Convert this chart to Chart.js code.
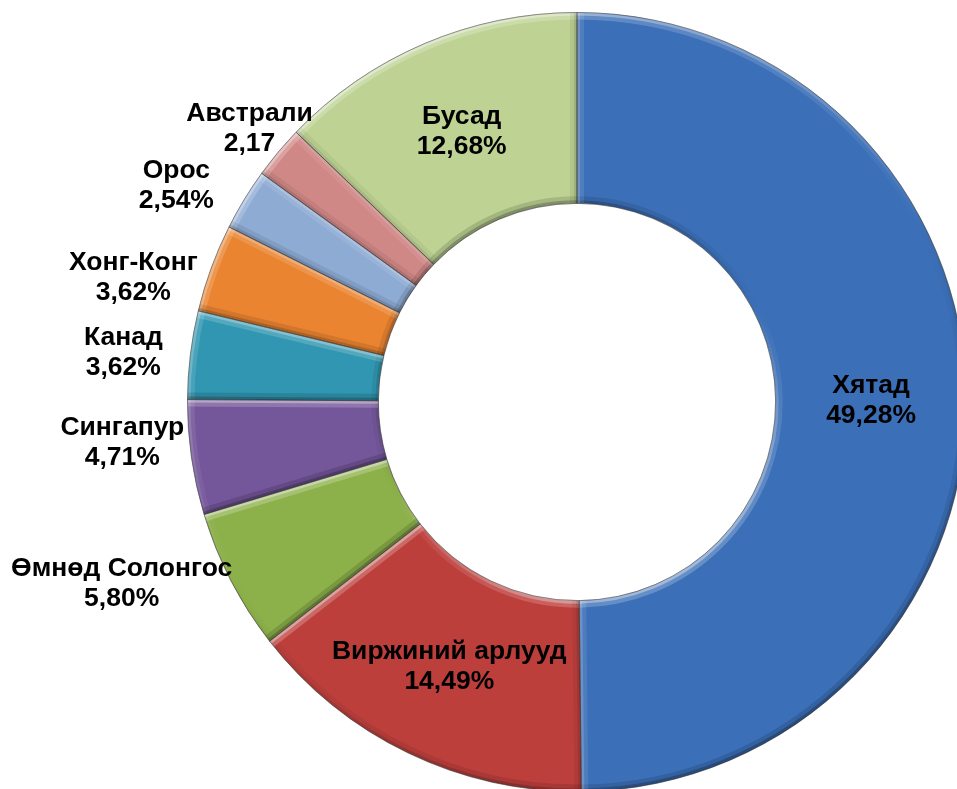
<!DOCTYPE html>
<html><head><meta charset="utf-8">
<script src="https://cdn.jsdelivr.net/npm/chart.js@4/dist/chart.umd.min.js"></script>
<style>
html,body{margin:0;padding:0;overflow:hidden;background:#fff;width:957px;height:789px}
#wrap{position:absolute;left:0;top:0;width:980px;height:800px}
</style>
</head><body>
<div id="wrap"><canvas id="c" width="980" height="800"></canvas></div>
<script>
// ---- data ----
const categories = ['Хятад', 'Виржиний арлууд', 'Өмнөд Солонгос', 'Сингапур', 'Канад', 'Хонг-Конг', 'Орос', 'Австрали', 'Бусад'];
const shares = [49.28, 14.49, 5.80, 4.71, 3.62, 3.62, 2.54, 2.17, 12.68];
const valueLabels = ['49,28%', '14,49%', '5,80%', '4,71%', '3,62%', '3,62%', '2,54%', '2,17', '12,68%'];

// ---- styles ----
const sliceColors = ['#3b6fb7', '#bc3f3c', '#8cb04a', '#74569a', '#3096b1', '#ea8430', '#8eabd4', '#d08886', '#bdd293'];
const LABEL_FONT = 'bold 26.5px "Liberation Sans", Arial, sans-serif';
const LINE_H = 30;
const OUT_GAP = 8;
// small manual placement corrections for outside labels (px), by slice index
const outsideNudge = {2: [-4, -15], 3: [0, -20], 4: [-20, 2], 5: [-10, 23], 6: [-29, 6], 7: [26, 1]};

function arcPath(ctx, x, y, ri, ro, a0, a1) {
  ctx.beginPath();
  ctx.arc(x, y, ro, a0, a1);
  ctx.arc(x, y, ri, a1, a0, true);
  ctx.closePath();
}

const L = (function(){ const lx=-0.45, ly=-0.89, m=Math.hypot(lx,ly); return [lx/m, ly/m]; })();
function shadeColor(d) {
  if (d >= 0) return 'rgba(255,255,255,' + (d * 0.5).toFixed(3) + ')';
  return 'rgba(0,0,0,' + (-d * 0.3).toFixed(3) + ')';
}
function conicShade(ctx, x, y, sign) {
  const g = ctx.createConicGradient(0, x, y);
  const N = 72;
  for (let k = 0; k <= N; k++) {
    const a = k / N * Math.PI * 2;
    const d = sign * (Math.cos(a) * L[0] + Math.sin(a) * L[1]);
    g.addColorStop(k / N, shadeColor(d));
  }
  return g;
}
function bandStroke(ctx, style, draw) {
  ctx.strokeStyle = style;
  ctx.lineWidth = 14; ctx.globalAlpha = 0.45; draw(); ctx.stroke();
  ctx.lineWidth = 6; ctx.globalAlpha = 0.75; draw(); ctx.stroke();
  ctx.globalAlpha = 1;
}

const bevelPlugin = {
  id: 'bevel',
  afterDatasetsDraw(chart) {
    const ctx = chart.ctx;
    const meta = chart.getDatasetMeta(0);
    meta.data.forEach(arc => {
      const p = arc.getProps(['x','y','startAngle','endAngle','innerRadius','outerRadius'], true);
      const {x, y, startAngle: a0, endAngle: a1, innerRadius: ri, outerRadius: ro} = p;
      ctx.save();
      arcPath(ctx, x, y, ri, ro, a0, a1);
      ctx.clip();
      ctx.lineCap = 'butt';
      bandStroke(ctx, conicShade(ctx, x, y, 1), () => { ctx.beginPath(); ctx.arc(x, y, ro, a0, a1); });
      bandStroke(ctx, conicShade(ctx, x, y, -1), () => { ctx.beginPath(); ctx.arc(x, y, ri, a0, a1); });
      const dS = Math.sin(a0) * L[0] - Math.cos(a0) * L[1];
      bandStroke(ctx, shadeColor(dS), () => { ctx.beginPath(); ctx.moveTo(x + Math.cos(a0) * ri, y + Math.sin(a0) * ri); ctx.lineTo(x + Math.cos(a0) * ro, y + Math.sin(a0) * ro); });
      const dE = -Math.sin(a1) * L[0] + Math.cos(a1) * L[1];
      bandStroke(ctx, shadeColor(dE), () => { ctx.beginPath(); ctx.moveTo(x + Math.cos(a1) * ri, y + Math.sin(a1) * ri); ctx.lineTo(x + Math.cos(a1) * ro, y + Math.sin(a1) * ro); });
      ctx.restore();
      ctx.save();
      arcPath(ctx, x, y, ri, ro, a0, a1);
      ctx.strokeStyle = 'rgba(50,50,50,0.35)';
      ctx.lineWidth = 1;
      ctx.stroke();
      ctx.restore();
    });
  }
};

const labelPlugin = {
  id: 'sliceLabels',
  afterDraw(chart) {
    const ctx = chart.ctx;
    const meta = chart.getDatasetMeta(0);
    const total = shares.reduce((a, b) => a + b, 0);
    ctx.save();
    ctx.font = LABEL_FONT;
    ctx.fillStyle = '#000';
    ctx.textAlign = 'center';
    ctx.textBaseline = 'middle';
    meta.data.forEach((arc, i) => {
      const p = arc.getProps(['x','y','startAngle','endAngle','innerRadius','outerRadius'], true);
      const mid = (p.startAngle + p.endAngle) / 2;
      const dx = Math.cos(mid), dy = Math.sin(mid);
      const lines = [categories[i], valueLabels[i]];
      const w = Math.max(...lines.map(t => ctx.measureText(t).width));
      const h = LINE_H * lines.length;
      let cx, cy;
      if (shares[i] / total > 0.1) {
        const r = (p.innerRadius + p.outerRadius) / 2;
        cx = p.x + dx * r; cy = p.y + dy * r;
      } else {
        const r = p.outerRadius + OUT_GAP;
        cx = p.x + dx * r + dx * w / 2;
        cy = p.y + dy * r + dy * h / 2;
        const nd = outsideNudge[i] || [0, 0];
        cx += nd[0]; cy += nd[1];
      }
      ctx.fillText(lines[0], cx, cy - LINE_H / 2);
      ctx.fillText(lines[1], cx, cy + LINE_H / 2);
    });
    ctx.restore();
  }
};

new Chart(document.getElementById('c').getContext('2d'), {
  type: 'doughnut',
  data: {
    labels: categories,
    datasets: [{
      data: shares,
      backgroundColor: sliceColors,
      borderColor: 'rgba(60,60,60,0.4)',
      borderWidth: 1
    }]
  },
  options: {
    responsive: false,
    animation: false,
    events: [],
    cutout: '51%',
    layout: { padding: { left: 187, top: 12, right: 13, bottom: 8 } },
    plugins: { legend: { display: false }, tooltip: { enabled: false } }
  },
  plugins: [bevelPlugin, labelPlugin]
});
</script>
</body></html>
